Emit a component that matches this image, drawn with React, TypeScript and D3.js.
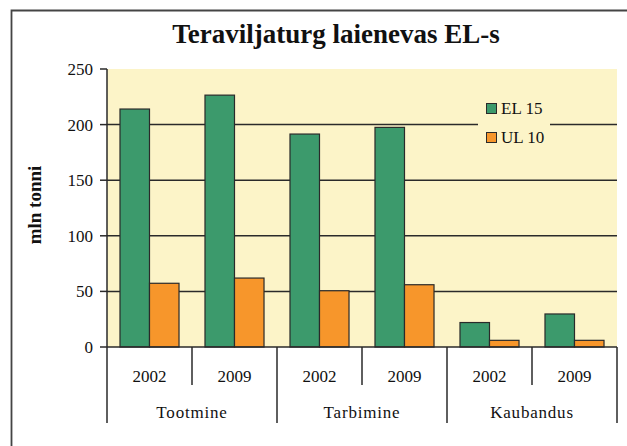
import React from "react";
import * as d3 from "d3";

const categories = ["Tootmine", "Tarbimine", "Kaubandus"];
const years = ["2002", "2009"];
const seriesNames = ["EL 15", "UL 10"];
const el15 = [214, 226.5, 191.5, 197.5, 22, 29.7];
const ul10 = [57.3, 62, 50.6, 56, 6, 6];
const yTicks = [0, 50, 100, 150, 200, 250];

const W = 627, H = 446;
const X0 = 107, X1 = 617, Y0 = 347, YT = 69;
const FONT = "Liberation Serif, Times New Roman, serif";
const GREEN = "#3c9a6c";
const ORANGE = "#f7962b";
const PLOTBG = "#fcf4c8";
const LINE = "#2a2a2a";

export default function App() {
  const groups = categories.flatMap((c) => years.map((y) => `${c}|${y}`));
  const x = d3.scaleBand<string>().domain(groups).range([X0, X1]).padding(0);
  const xCat = d3.scaleBand<string>().domain(categories).range([X0, X1]).padding(0);
  const inner = d3
    .scaleBand<string>()
    .domain(seriesNames)
    .range([0, x.bandwidth()])
    .paddingInner(0)
    .paddingOuter(0.44);
  const y = d3.scaleLinear().domain([0, 250]).range([Y0, YT]);
  const data = [el15, ul10];
  const colors = [GREEN, ORANGE];

  return (
    <svg width={W} height={H} style={{ position: "absolute", left: 0, top: 0, background: "#fff" }}>
      <path d={`M11.5,${H} V10.5 H${W}`} fill="none" stroke="#444" strokeWidth={1.8} />
      <text x={336} y={43} textAnchor="middle" fontFamily={FONT} fontWeight="bold" fontSize={27} fill="#111">
        Teraviljaturg laienevas EL-s
      </text>
      <rect x={X0} y={YT} width={X1 - X0} height={Y0 - YT} fill={PLOTBG} />
      {yTicks.filter((t) => t > 0 && t < 250).map((t) => (
        <line key={t} x1={X0} x2={X1} y1={y(t)} y2={y(t)} stroke={LINE} strokeWidth={1.5} />
      ))}
      {/* legend */}
      <rect x={478} y={96} width={72} height={54} fill={PLOTBG} />
      {seriesNames.map((s, i) => (
        <g key={s} transform={`translate(486,${103 + i * 29})`}>
          <rect x={0.5} y={0.5} width={10} height={10} fill={colors[i]} stroke={LINE} strokeWidth={1} />
          <text x={15} y={11} fontFamily={FONT} fontSize={17} fill="#111">{s}</text>
        </g>
      ))}
      {groups.map((g, gi) =>
        data.map((vals, si) => (
          <rect
            key={`${g}-${si}`}
            x={(x(g) as number) + (inner(seriesNames[si]) as number)}
            y={y(vals[gi])}
            width={inner.bandwidth()}
            height={Y0 - y(vals[gi])}
            fill={colors[si]}
            stroke={LINE}
            strokeWidth={1.2}
          />
        ))
      )}
      {/* y axis */}
      <line x1={X0} x2={X0} y1={YT} y2={Y0} stroke={LINE} strokeWidth={1.5} />
      {yTicks.map((t) => (
        <g key={t}>
          <line x1={100} x2={X0} y1={y(t)} y2={y(t)} stroke={LINE} strokeWidth={1.5} />
          <text x={93} y={y(t) + 6} textAnchor="end" fontFamily={FONT} fontSize={17} fill="#111">{t}</text>
        </g>
      ))}
      <text
        transform={`translate(41,205) rotate(-90)`}
        textAnchor="middle"
        fontFamily={FONT}
        fontWeight="bold"
        fontSize={19}
        fill="#111"
      >
        mln tonni
      </text>
      {/* x axis */}
      <line x1={X0} x2={X1} y1={Y0} y2={Y0} stroke={LINE} strokeWidth={1.5} />
      {groups.map((g, gi) => (
        <g key={g}>
          {gi % 2 === 1 && (
            <line x1={x(g)} x2={x(g)} y1={Y0} y2={385} stroke={LINE} strokeWidth={1.5} />
          )}
          <text x={(x(g) as number) + x.bandwidth() / 2} y={382} textAnchor="middle" fontFamily={FONT} fontSize={17} fill="#111">
            {g.split("|")[1]}
          </text>
        </g>
      ))}
      {categories.map((c) => (
        <text key={c} x={(xCat(c) as number) + xCat.bandwidth() / 2} y={418} textAnchor="middle" fontFamily={FONT} fontSize={17} letterSpacing={0.8} fill="#111">
          {c}
        </text>
      ))}
      {[...categories.map((c) => xCat(c) as number), X1].map((v, i) => (
        <line key={i} x1={v} x2={v} y1={Y0} y2={423} stroke={LINE} strokeWidth={1.5} />
      ))}
    </svg>
  );
}
